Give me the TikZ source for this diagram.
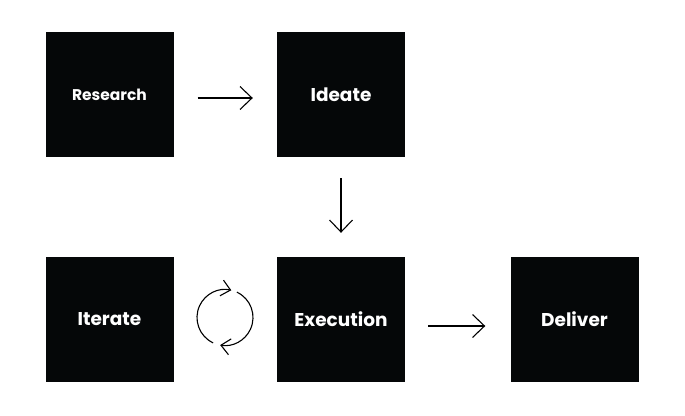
\documentclass[tikz,border=0pt]{standalone}
\usepackage{fontspec}
\setmainfont{Poppins}
\usetikzlibrary{arrows.meta}
\begin{document}
\begin{tikzpicture}[x=1pt,y=-1pt,
  stage/.style={fill={rgb,255:red,5;green,7;blue,8}, draw=none, minimum width=128pt, minimum height=125pt,
    inner sep=0pt, text=white, font=\fontsize{18.5}{18.5}\selectfont\bfseries},
  small/.style={font=\fontsize{15.5}{15.5}\selectfont\bfseries},
  flow/.style={draw=black, line width=1.1pt, -{Straight Barb[length=12pt,width=23pt,line width=1.1pt]}},
  cyc/.style={draw=black, line width=1.1pt, -{Straight Barb[length=9pt,width=16pt,line width=1.1pt]}}]
\useasboundingbox (0,0) rectangle (685,415);
\node[stage, small] (research) at (109.5,94.5) {Research};
\node[stage] (ideate) at (341,94.5) {Ideate};
\node[stage] (iterate) at (109.5,319.5) {Iterate};
\node[stage] (execution) at (341,319.5) {Execution};
\node[stage] (deliver) at (574.5,319.5) {Deliver};
\draw[flow, shorten <=24pt, shorten >=24pt] ([yshift=-3.5pt]research.east) -- ([yshift=-3.5pt]ideate.west);
\draw[flow, shorten <=21pt, shorten >=24pt] (ideate.south) -- (execution.north);
\draw[flow, shorten <=23pt, shorten >=25pt] ([yshift=-6.5pt]execution.east) -- ([yshift=-6.5pt]deliver.west);
\begin{scope}[shift={(225,317.5)}, yscale=-1]
  \draw[cyc] (245:28) arc[start angle=245, end angle=77, radius=28];
  \draw[cyc] (65:28) arc[start angle=65, end angle=-100, radius=28];
\end{scope}
\end{tikzpicture}
\end{document}
